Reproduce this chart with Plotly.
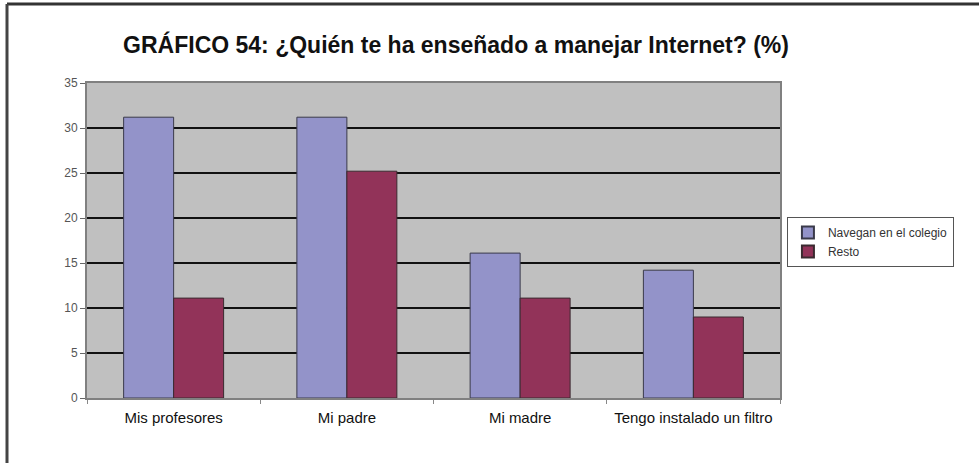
import plotly.graph_objects as go

# Categories and series values (%)
categories = ["Mis profesores", "Mi padre", "Mi madre", "Tengo instalado un filtro"]
navegan_colegio = [31.2, 31.2, 16.1, 14.2]
resto = [11.1, 25.2, 11.1, 9.0]
y_ticks = [0, 5, 10, 15, 20, 25, 30, 35]

FONT = "Arial, Liberation Sans, sans-serif"

fig = go.Figure()
fig.add_trace(go.Bar(
    name="Navegan en el colegio", x=categories, y=navegan_colegio,
    marker=dict(color="#9393c9", line=dict(color="#3a3a4a", width=1)),
))
fig.add_trace(go.Bar(
    name="Resto", x=categories, y=resto,
    marker=dict(color="#923359", line=dict(color="#3a2a30", width=1)),
))

fig.update_layout(
    width=979, height=463,
    margin=dict(l=87, r=199, t=83, b=65),
    paper_bgcolor="white",
    plot_bgcolor="#c0c0c0",
    barmode="group", bargap=0.423, bargroupgap=0,
    font=dict(family=FONT, color="#222"),
    title=dict(
        text="<b>GRÁFICO 54: ¿Quién te ha enseñado a manejar Internet? (%)</b>",
        x=456 / 979, xanchor="center",
        y=1 - 45 / 463, yanchor="middle", yref="container",
        font=dict(family=FONT, size=23, color="#111"),
    ),
    legend=dict(
        x=1.01, xanchor="left", y=0.575, yanchor="top",
        bgcolor="white", bordercolor="#555", borderwidth=1,
        font=dict(family=FONT, size=12, color="#333"),
        tracegroupgap=0, itemsizing="constant", itemwidth=30,
    ),
    showlegend=True,
)

fig.update_yaxes(
    range=[0, 35], tickvals=y_ticks,
    showgrid=True, gridcolor="#111", gridwidth=2,
    zeroline=False,
    showline=True, linecolor="#808080", linewidth=2, mirror=True,
    ticks="outside", ticklen=5, tickcolor="#666",
    tickfont=dict(family=FONT, size=12, color="#555"),
)
fig.update_xaxes(
    showgrid=False,
    showline=True, linecolor="#808080", linewidth=2, mirror=True,
    ticks="outside", tickson="boundaries", ticklen=4, tickcolor="#888",
    tickangle=0, ticklabelstandoff=5, automargin=False,
    tickfont=dict(family=FONT, size=15, color="#111"),
)

# Frame lines along the top and left edges of the page
fig.add_shape(type="line", xref="paper", yref="paper",
              x0=-80 / 693, x1=1.3, y0=1 + 79 / 315, y1=1 + 79 / 315,
              line=dict(color="#333", width=3))
fig.add_shape(type="line", xref="paper", yref="paper",
              x0=-80 / 693, x1=-80 / 693, y0=-0.3, y1=1 + 79 / 315,
              line=dict(color="#444", width=3))

fig.write_html("out.html")
